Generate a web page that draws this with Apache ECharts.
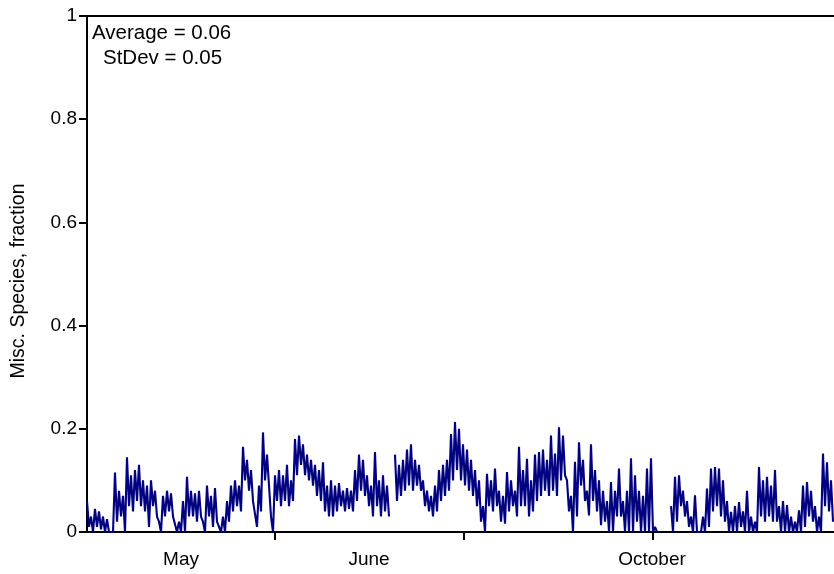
<!DOCTYPE html>
<html>
<head>
<meta charset="utf-8">
<script src="https://cdn.jsdelivr.net/npm/echarts@6/dist/echarts.min.js"></script>
<style>
  html, body { margin: 0; padding: 0; background: #fff; }
  #chartmain { width: 834px; height: 574px; }
</style>
</head>
<body>
<div id="chartmain"></div>
<script>
// envelope, one pair per 4px step (upper / lower swing)
var upperA = [0.06,0.03,0.045,0.04,0.03,0.025,0.0,0.115,0.08,0.07,0.145,0.11,0.12,0.13,0.10,0.09,0.10,0.08,0.02,0.07,0.08,0.075,0.03,0.02];
var lowerA = [0.01,0.0,0.01,0.005,0.0,0.0,0.0,0.02,0.03,0.0,0.05,0.04,0.06,0.05,0.04,0.01,0.05,0.03,0.0,0.03,0.04,0.03,0.0,0.0];
var upperB = [0.06,0.107,0.08,0.075,0.08,0.02,0.09,0.07,0.085,0.02,0.03,0.06,0.09,0.10,0.09,0.165,0.14,0.12,0.06,0.09,0.193,0.15,0.03,0.11];
var lowerB = [0.0,0.03,0.03,0.02,0.03,0.0,0.03,0.01,0.02,0.0,0.0,0.02,0.04,0.05,0.04,0.10,0.08,0.06,0.01,0.04,0.10,0.09,0.0,0.06];
var upperC = [0.12,0.11,0.13,0.10,0.18,0.187,0.17,0.15,0.14,0.13,0.12,0.135,0.09,0.10,0.09,0.095,0.08,0.085,0.08,0.12,0.15,0.14,0.11,0.09];
var lowerC = [0.05,0.06,0.05,0.06,0.11,0.13,0.11,0.10,0.09,0.07,0.06,0.04,0.03,0.03,0.04,0.05,0.04,0.045,0.04,0.06,0.08,0.07,0.05,0.03];
var upperD = [0.155,0.10,0.11,0.09,null,0.15,0.13,0.14,0.16,0.17,0.14,0.13,0.10,0.08,0.07,0.09,0.12,0.13,0.14,0.19,0.213,0.20,0.17];
var lowerD = [0.05,0.03,0.04,0.03,null,0.06,0.07,0.08,0.09,0.08,0.09,0.08,0.05,0.04,0.03,0.04,0.06,0.07,0.08,0.10,0.12,0.10,0.09];
var upperE = [0.16,0.14,0.12,0.10,0.05,0.113,0.10,0.123,0.08,0.07,0.116,0.10,0.08,0.165,0.12,0.142,0.10,0.15,0.155,0.16,0.14,0.187,0.152,0.203];
var lowerE = [0.08,0.07,0.05,0.02,0.0,0.05,0.04,0.05,0.02,0.016,0.04,0.05,0.03,0.05,0.05,0.03,0.04,0.06,0.07,0.08,0.07,0.08,0.07,0.10];
var upperF = [0.187,0.10,0.07,0.136,0.174,0.14,0.08,0.17,0.12,0.10,0.08,0.06,0.097,0.08,0.123,0.06,0.08,0.143,0.11,0.08,0.07,0.123,0.143,0.01,null,null,null];
var lowerF = [0.11,0.04,0.0,0.03,0.09,0.06,0.032,0.06,0.04,0.013,0.02,0.0,0.0,0.03,0.03,0.0,0.0,0.0,0.02,0.0,0.0,0.0,0.0,0.0,null,null,null];
var upperG = [0.05,0.107,0.11,0.08,0.06,0.03,0.071,0.0,0.03,0.084,0.123,0.126,0.123,0.10,0.06,0.039,0.05,0.058,0.04,0.08];
var lowerG = [0.0,0.02,0.05,0.03,0.01,0.0,0.0,0.0,0.0,0.01,0.04,0.05,0.03,0.02,0.0,0.0,0.0,0.01,0.0,0.0];
var upperH = [0.03,0.02,0.126,0.10,0.107,0.09,0.12,0.05,0.06,0.052,0.03,0.02,0.042,0.09,0.097,0.08,0.05,0.03,0.152,0.135,0.10];
var lowerH = [0.0,0.0,0.03,0.02,0.03,0.02,0.02,0.0,0.0,0.0,0.0,0.0,0.0,0.01,0.03,0.02,0.0,0.0,0.05,0.04,0.02];

var monthTicks = [94, 188.5, 283];
var monthLabelPos = [47, 141, 282.5];
var monthLabels = ['May', 'June', 'October'];

var upper = [].concat(upperA, upperB, upperC, upperD, upperE, upperF, upperG, upperH);
var lower = [].concat(lowerA, lowerB, lowerC, lowerD, lowerE, lowerF, lowerG, lowerH);

var seriesData = [];
for (var j = 0; j < upper.length; j++) {
	seriesData.push([2 * j, upper[j]]);
	seriesData.push([2 * j + 1, lower[j]]);
}

var myChart = echarts.init(document.getElementById('chartmain'));
var font = 'Liberation Sans, Arial, sans-serif';

var option = {
	backgroundColor: '#fff',
	animation: false,
	grid: { left: 87, right: 0, top: 16, bottom: 42, containLabel: false, outerBoundsMode: 'none' },
	xAxis: [{
		type: 'value',
		min: 0,
		max: 373.5,
		splitLine: { show: false },
		axisLine: { show: true, onZero: false, lineStyle: { color: '#000', width: 2 } },
		axisTick: { show: true, length: 8, customValues: monthTicks, lineStyle: { color: '#000', width: 2 } },
		axisLabel: {
			show: true,
			margin: 18,
			fontSize: 19,
			fontFamily: font,
			color: '#000',
			customValues: monthLabelPos,
			formatter: function (v) {
				var k = monthLabelPos.indexOf(v);
				return k >= 0 ? monthLabels[k] : '';
			}
		}
	}, {
		type: 'value',
		position: 'top',
		min: 0,
		max: 373.5,
		splitLine: { show: false },
		axisLine: { show: true, onZero: false, lineStyle: { color: '#000', width: 2 } },
		axisTick: { show: false },
		axisLabel: { show: false }
	}],
	yAxis: {
		type: 'value',
		min: 0,
		max: 1,
		interval: 0.2,
		name: 'Misc. Species, fraction',
		nameLocation: 'middle',
		nameRotate: 90,
		nameGap: 58,
		nameTextStyle: { fontSize: 19.5, fontFamily: font, color: '#000', padding: [0, 14, 0, 0] },
		splitLine: { show: false },
		axisLine: { show: true, lineStyle: { color: '#000', width: 2 } },
		axisTick: { show: true, length: 8, lineStyle: { color: '#000', width: 2 } },
		axisLabel: { margin: 10, fontSize: 19, fontFamily: font, color: '#000' }
	},
	graphic: [
		{ type: 'text', left: 92, top: 23, style: { text: 'Average = 0.06', fontSize: 20.5, fontFamily: font, fill: '#000' } },
		{ type: 'text', left: 103, top: 48, style: { text: 'StDev = 0.05', fontSize: 20.5, fontFamily: font, fill: '#000' } }
	],
	series: [{
		type: 'line',
		xAxisIndex: 0,
		data: seriesData,
		showSymbol: false,
		connectNulls: false,
		lineStyle: { color: '#000080', width: 2.1 }
	}]
};
myChart.setOption(option);
</script>
</body>
</html>
